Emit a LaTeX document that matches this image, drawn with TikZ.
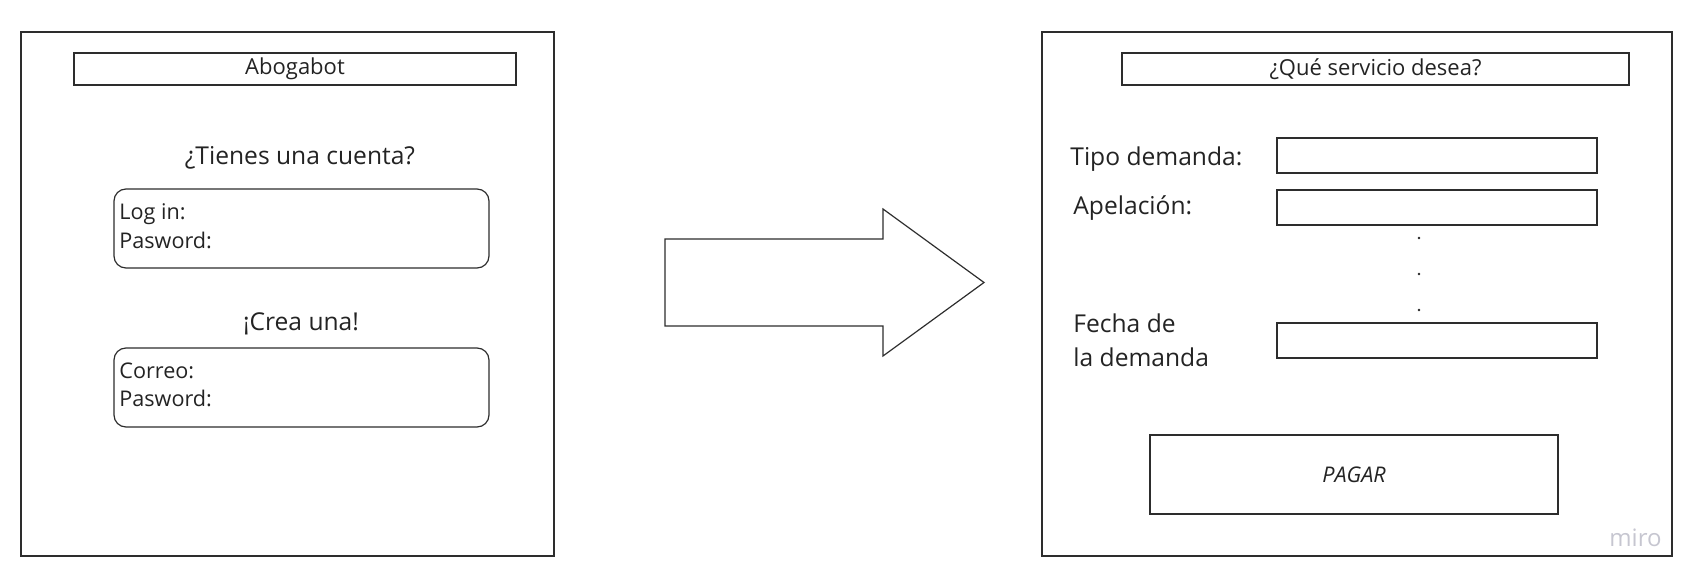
\documentclass[tikz,border=0pt]{standalone}
\usepackage{fontspec}
\setmainfont{Open Sans}
\usepackage{xcolor}
\definecolor{linegray}{RGB}{45,45,45}
\definecolor{textgray}{RGB}{35,35,35}
\definecolor{mirogray}{RGB}{198,198,208}
\usetikzlibrary{positioning}
\newcommand{\headsize}{\fontsize{11pt}{13pt}\selectfont}
\newcommand{\asksize}{\fontsize{12.3pt}{15pt}\selectfont}
\newcommand{\fieldsize}{\fontsize{10.8pt}{13pt}\selectfont}
\tikzset{
    common/.style={draw=linegray, line width=0.6pt, rectangle, inner sep=0pt},
    box/.style 2 args={common, minimum width=#1, minimum height=#2},
    screen/.style 2 args={box={#1}{#2}},
    header/.style 2 args={box={#1}{#2}, font=\headsize, text=textgray},
    entry/.style={box={160pt}{17.5pt}},
    card/.style={box={187.5pt}{39.5pt}, rounded corners=6pt},
    ask/.style={font=\asksize, text=textgray, inner sep=0pt},
    field/.style={font=\fieldsize, text=textgray, inner sep=0pt, anchor=base west},
    outline/.style={draw=linegray, line width=0.6pt, line join=miter}
}

\begin{document}
\begin{tikzpicture}[x=0.5pt, y=-0.5pt]
    \useasboundingbox (0,0) rectangle (1702,587);

    % login screen
    \node[screen={266.5pt}{262pt}] (screenL) at (287.5,294) {};
    \node[header={221pt}{16pt}] (headL) at (295,69) {Abogabot};
    \node[ask, anchor=base] (haveacc) at (300,165) {¿Tienes una cuenta?};
    \node[card] (logbox) at (301.5,228.5) {};
    \node[field] (login) at (119,220) {Log in:};
    \node[field] (pwA) at (119,249) {Pasword:};
    \node[ask, anchor=base] (create) at (301,331) {¡Crea una!};
    \node[card] (newbox) at (301.5,387.5) {};
    \node[field] (mail) at (119,379) {Correo:};
    \node[field] (pwB) at (119,407) {Pasword:};

    % big arrow
    \draw[outline] (665,239) -- ++(218,0) -- ++(0,-30) -- ++(101,73.5)
        -- ++(-101,73.5) -- ++(0,-30) -- ++(-218,0) -- cycle;

    % service screen
    \node[screen={315pt}{262pt}] (screenR) at (1357,294) {};
    \node[header={253.5pt}{16pt}] (headR) at (1375.5,69) {¿Qué servicio desea?};
    \node[entry] (tipo) at (1437,155.5) {};
    \node[entry] (apel) at (1437,207.5) {};
    \node[entry] (fecha) at (1437,340.5) {};
    \node[ask, anchor=base west] (tipoL) at (1070,166) {Tipo demanda:};
    \node[ask, anchor=base west] (apelL) at (1073,215) {Apelación:};
    \node[ask, anchor=base west] (fechaA) at (1073,332.7) {Fecha de};
    \node[ask, anchor=base west] (fechaB) at (1073,366.7) {la demanda};
    \foreach \y in {238,274,310}
        \fill[textgray] (1419,\y) circle (0.7pt);
    \node[box={204pt}{39.5pt}, font=\fieldsize\itshape, text=textgray] (pay) at (1354,474.5) {PAGAR};
    \node[font=\fontsize{12pt}{14pt}\selectfont, text=mirogray, inner sep=0pt, anchor=base east] (brand) at (1662,546) {miro};
\end{tikzpicture}
\end{document}
